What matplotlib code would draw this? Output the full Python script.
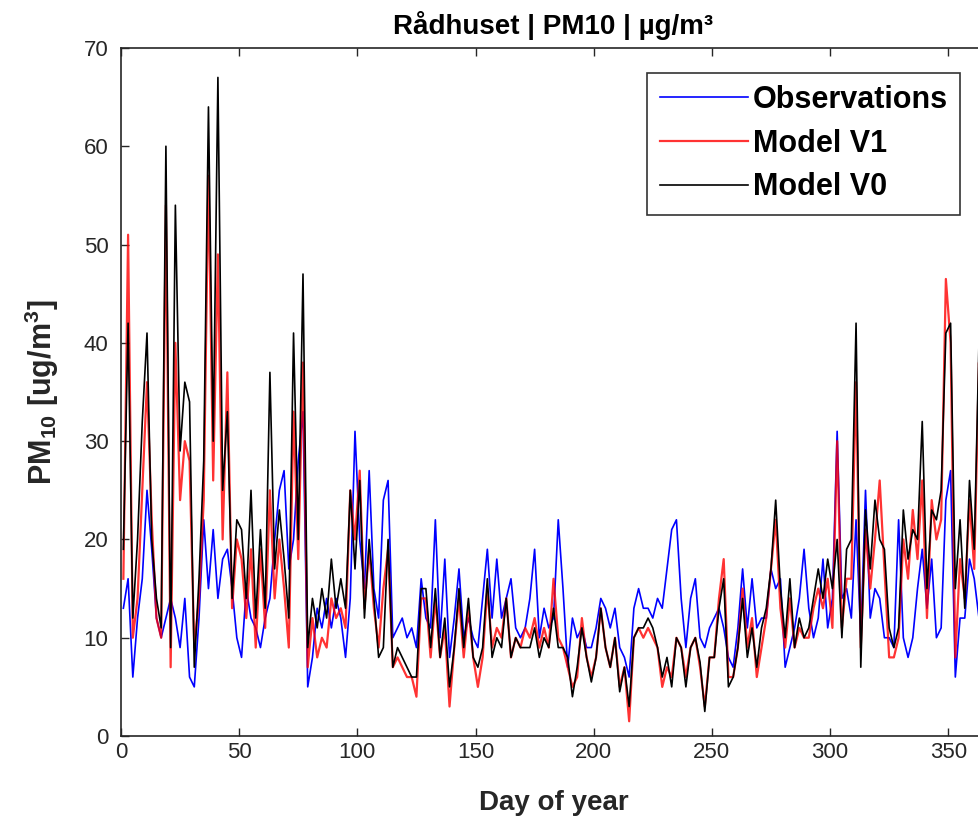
import numpy as np
import matplotlib
matplotlib.use("Agg")
import matplotlib.pyplot as plt
from matplotlib import font_manager

plt.rcParams['font.family'] = ['Liberation Sans', 'DejaVu Sans']
plt.rcParams['mathtext.fontset'] = 'custom'
plt.rcParams['mathtext.rm'] = 'Liberation Sans:bold'
plt.rcParams['mathtext.bf'] = 'Liberation Sans:bold'

# narrow face for the tick numbers, if present
names = {f.name for f in font_manager.fontManager.ttflist}
tick_family = 'Liberation Sans Narrow' if 'Liberation Sans Narrow' in names else 'Liberation Sans'
tick_size = 18 if tick_family == 'Liberation Sans Narrow' else 16

# sampled every second day (odd days of the year)
days = list(range(1, 366, 2))

obs = [13, 16, 6, 12, 16, 25, 19, 12, 10, 12,
       14, 12, 9, 14, 6, 5, 12, 22, 15, 21,
       14, 18, 19, 15, 10, 8, 15, 12, 11, 9,
       12, 14, 20, 25, 27, 17, 20, 28, 33, 5,
       8, 13, 11, 14, 11, 14, 12, 8, 14, 31,
       20, 15, 27, 15, 12, 24, 26, 10, 11, 12,
       10, 11, 9, 16, 12, 11, 22, 10, 18, 8,
       12, 17, 10, 12, 10, 9, 14, 19, 12, 18,
       12, 14, 16, 11, 10, 11, 14, 19, 10, 13,
       11, 12, 22, 15, 7, 12, 10, 11, 9, 9,
       11, 14, 13, 11, 13, 9, 8, 6, 13, 15,
       13, 13, 12, 14, 13, 17, 21, 22, 14, 9,
       14, 16, 10, 9, 11, 12, 13, 11, 8, 7,
       11, 17, 11, 16, 11, 12, 12, 17, 15, 16,
       7, 9, 11, 14, 19, 13, 10, 12, 18, 11,
       14, 31, 14, 15, 12, 22, 10, 25, 12, 15,
       14, 10, 10, 9, 22, 10, 8, 10, 15, 19,
       13, 18, 10, 11, 24, 27, 6, 12, 12, 18,
       16, 12, 10]

model_v1 = [16, 51, 10, 14, 25, 36, 22, 12, 10, 54,
            7, 40, 24, 30, 28, 9, 14, 24, 57, 26,
            49, 20, 37, 13, 20, 18, 12, 19, 9, 19,
            11, 25, 14, 20, 15, 9, 33, 18, 38, 7,
            12, 8, 10, 9, 14, 12, 13, 11, 25, 20,
            27, 13, 19, 13, 9, 15, 19, 7, 8, 7,
            6, 6, 4, 14, 14, 8, 14, 8, 11, 3,
            9, 14, 8, 13, 8, 5, 8, 15, 9, 11,
            10, 14, 8, 10, 9, 11, 10, 12, 9, 11,
            9, 16, 10, 9, 7, 5, 6, 12, 8, 6,
            8, 13, 9, 7, 10, 5, 7, 1.5, 10, 11,
            10, 11, 10, 9, 5, 7, 6, 10, 9, 6,
            9, 10, 7, 3, 8, 8, 14, 18, 6, 6,
            9, 15, 9, 12, 6, 9, 12, 17, 22, 13,
            9, 14, 9, 11, 10, 10, 13, 15, 13, 16,
            11, 30, 11, 16, 16, 36, 9, 21, 15, 20,
            26, 17, 8, 8, 10, 20, 16, 23, 18, 26,
            12, 24, 20, 22, 46.5, 40, 8, 18, 14, 24,
            17, 38, 16]

model_v0 = [19, 42, 12, 20, 32, 41, 20, 14, 11, 60,
            9, 54, 29, 36, 34, 7, 16, 28, 64, 30,
            67, 25, 33, 14, 22, 21, 14, 25, 12, 21,
            13, 37, 17, 23, 18, 12, 41, 20, 47, 9,
            14, 11, 15, 12, 18, 13, 16, 13, 25, 17,
            26, 12, 20, 14, 8, 9, 20, 7, 9, 8,
            7, 6, 6, 15, 15, 9, 15, 8, 12, 5,
            9, 15, 9, 14, 8, 7, 9, 16, 8, 10,
            9, 14, 8, 10, 9, 9, 9, 11, 8, 10,
            9, 13, 9, 9, 8, 4, 7, 11, 8, 5.5,
            8, 13, 9, 7, 10, 4.5, 7, 3, 10, 11,
            11, 12, 11, 9, 6, 8, 5, 10, 9, 5,
            9, 10, 7.5, 2.5, 8, 8, 13, 16, 5, 6,
            9, 14, 8, 11, 7, 11, 13, 17, 24, 15,
            10, 16, 9, 12, 10, 11, 14, 17, 14, 18,
            15, 20, 10, 19, 20, 42, 7, 23, 17, 24,
            20, 19, 11, 9, 11, 23, 18, 21, 20, 32,
            15, 23, 22, 25, 41, 42, 15, 22, 13, 26,
            19, 40, 18]

fig = plt.figure(figsize=(9.79, 8.27), dpi=100)
ax = fig.add_axes([0.1236, 0.110, 0.8836, 0.832])

ax.plot(days, obs, color='#0000ff', lw=1.2, label='Observations')
ax.plot(days, model_v1, color='#ff0000', lw=1.6, alpha=0.8, label='Model V1')
ax.plot(days, model_v0, color='black', lw=1.2, label='Model V0')

ax.set_xlim(0, 366)
ax.set_ylim(0, 70)
ax.set_xticks(np.arange(0, 351, 50))
ax.set_yticks(np.arange(0, 71, 10))
ax.tick_params(direction='in', length=6, width=1.0, labelsize=tick_size,
               colors='#262626', top=True, right=True)
ax.tick_params(axis='x', pad=4)
ax.tick_params(axis='y', pad=9)
for lab in ax.get_xticklabels() + ax.get_yticklabels():
    lab.set_family(tick_family)
for s in ax.spines.values():
    s.set_color('#262626')
    s.set_linewidth(1.2)

ax.set_xlabel('Day of year', fontsize=20, fontweight='bold', labelpad=20,
              color='#262626')
ax.set_ylabel('PM$_{10}$ [ug/m$^{3}$]', fontsize=22,
              fontweight='bold', labelpad=16, color='#262626')
ax.set_title('Rådhuset | PM10 | µg/m³', fontsize=20, fontweight='bold', pad=10)

leg = ax.legend(loc='upper right', bbox_to_anchor=(0.970, 0.964),
                borderaxespad=0, prop={'weight': 'bold', 'size': 22},
                frameon=True, fancybox=False, edgecolor='#333333',
                framealpha=1, handlelength=2.9, borderpad=0.4,
                labelspacing=0.45, handletextpad=0.15)
leg.get_frame().set_linewidth(1.2)

fig.savefig('out.png', dpi=100)
